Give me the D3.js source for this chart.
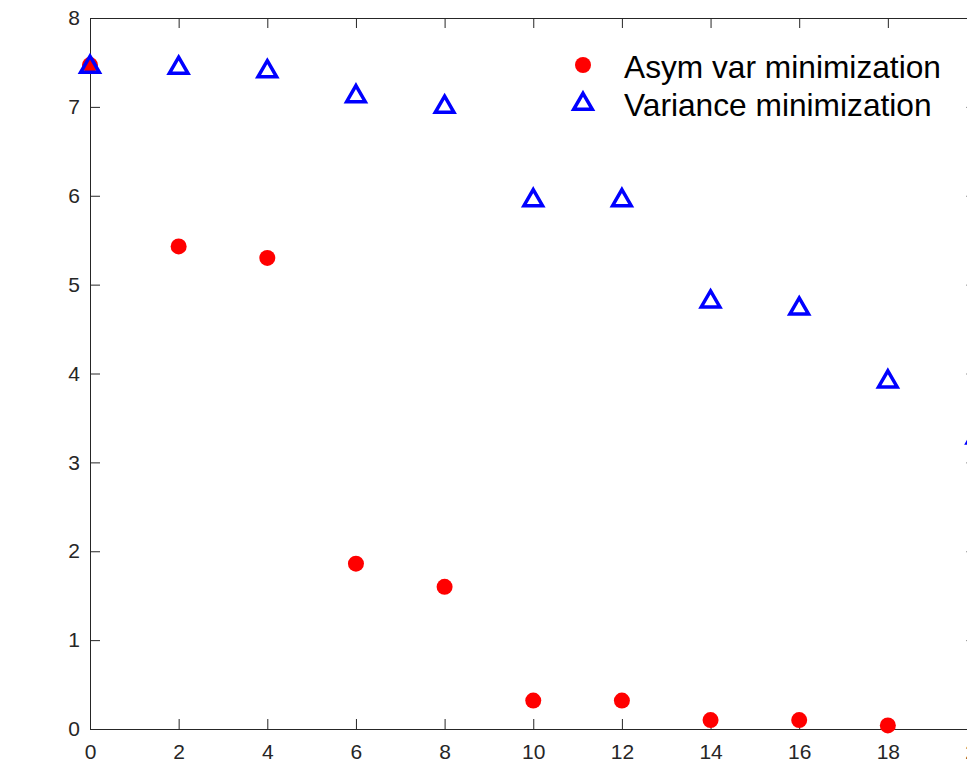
<!DOCTYPE html>
<html>
<head>
<meta charset="utf-8">
<script src="https://cdn.jsdelivr.net/npm/d3@7"></script>
<style>
  body { margin: 0; background: #fff; overflow: hidden; }
  svg { display: block; font-family: "Liberation Sans", Arial, sans-serif; }
  .tick text { font-size: 21px; }
</style>
</head>
<body>
<div id="plot"></div>
<script>
const xValues = [0, 2, 4, 6, 8, 10, 12, 14, 16, 18, 20];
const asymVar = [7.47, 5.43, 5.30, 1.86, 1.60, 0.32, 0.32, 0.10, 0.10, 0.04, 0.02];
const varianceMin = [7.46, 7.45, 7.41, 7.13, 7.01, 5.96, 5.96, 4.82, 4.74, 3.92, 3.29];
const xTicks = [0, 2, 4, 6, 8, 10, 12, 14, 16, 18, 20];
const yTicks = [0, 1, 2, 3, 4, 5, 6, 7, 8];
const seriesNames = ["Asym var minimization", "Variance minimization"];

const w = 967;
const h = 763;
const plotLeft = 90, plotRight = 976.5, plotTop = 18, plotBottom = 729;
const axisColor = "#262626";

const x = d3.scaleLinear().domain([0, 20]).range([plotLeft, plotRight]);
const y = d3.scaleLinear().domain([0, 8]).range([plotBottom, plotTop]);

const svg = d3.select("#plot")
  .append("svg")
  .attr("width", w)
  .attr("height", h);

//-------------------axes (box with inward ticks)-------------------
function styleAxis(g, hideText) {
  g.attr("font-size", null).attr("font-family", null);
  g.select(".domain").attr("stroke", axisColor).attr("stroke-width", 1);
  g.selectAll(".tick line").attr("stroke", axisColor);
  g.selectAll(".tick text").attr("fill", axisColor);
  if (hideText) g.selectAll(".tick text").remove();
}

svg.append("g")
  .attr("transform", "translate(0," + plotBottom + ")")
  .call(d3.axisBottom(x).tickValues(xTicks).tickSizeInner(-10).tickSizeOuter(0).tickPadding(15))
  .call(g => styleAxis(g, false));

svg.append("g")
  .attr("transform", "translate(0," + plotTop + ")")
  .call(d3.axisTop(x).tickValues(xTicks).tickSizeInner(-10).tickSizeOuter(0))
  .call(g => styleAxis(g, true));

svg.append("g")
  .attr("transform", "translate(" + plotLeft + ",0)")
  .call(d3.axisLeft(y).tickValues(yTicks).tickSizeInner(-10).tickSizeOuter(0).tickPadding(10))
  .call(g => styleAxis(g, false));

svg.append("g")
  .attr("transform", "translate(" + plotRight + ",0)")
  .call(d3.axisRight(y).tickValues(yTicks).tickSizeInner(-10).tickSizeOuter(0))
  .call(g => styleAxis(g, true));

//-------------------markers-------------------
const triangle = d3.symbol().type(d3.symbolTriangle).size(150);

svg.append("g")
  .selectAll("circle")
  .data(xValues.map((d, i) => [d, asymVar[i]]))
  .enter()
  .append("circle")
  .attr("cx", d => x(d[0]))
  .attr("cy", d => y(d[1]))
  .attr("r", 8)
  .attr("fill", "#ff0000");

svg.append("g")
  .selectAll("path")
  .data(xValues.map((d, i) => [d, varianceMin[i]]))
  .enter()
  .append("path")
  .attr("d", triangle)
  .attr("transform", d => "translate(" + x(d[0]) + "," + (y(d[1]) + 1) + ")")
  .attr("fill", "none")
  .attr("stroke", "#0000ff")
  .attr("stroke-width", 3.5);

//-------------------legend-------------------
const legend = svg.append("g");
const legendRows = [
  { name: seriesNames[0], cy: 65, type: "circle" },
  { name: seriesNames[1], cy: 103, type: "triangle" }
];
legendRows.forEach(r => {
  if (r.type === "circle") {
    legend.append("circle").attr("cx", 583).attr("cy", r.cy).attr("r", 8).attr("fill", "#ff0000");
  } else {
    legend.append("path").attr("d", triangle)
      .attr("transform", "translate(583," + (r.cy + 1) + ")")
      .attr("fill", "none").attr("stroke", "#0000ff").attr("stroke-width", 3.5);
  }
  legend.append("text")
    .attr("x", 624)
    .attr("y", r.cy + 13)
    .attr("fill", "#000")
    .style("font-size", "31.7px")
    .text(r.name);
});
</script>
</body>
</html>
